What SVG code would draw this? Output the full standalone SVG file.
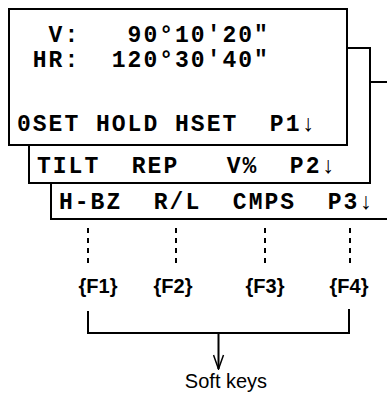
<svg xmlns="http://www.w3.org/2000/svg" width="387" height="395" viewBox="0 0 387 395">
<style>
.box{fill:#fff;stroke:#000;stroke-width:2}
.mono{font-family:"Liberation Mono","Courier New",monospace;font-weight:bold;font-size:23px;letter-spacing:2px;fill:#000}
.key{font-family:"Liberation Sans",Arial,sans-serif;font-weight:bold;font-size:20px;text-anchor:middle;fill:#000}
.lbl{font-family:"Liberation Sans",Arial,sans-serif;font-size:20px;text-anchor:middle;fill:#000}
.dash{stroke:#000;stroke-width:2;stroke-dasharray:5 5;fill:none}
.ln{stroke:#000;stroke-width:2;fill:none}
</style>
<defs>
<marker id="open" viewBox="0 0 16 12" refX="15" refY="6" markerWidth="16" markerHeight="12" markerUnits="userSpaceOnUse" orient="auto">
<path d="M1,1 L15,6 L1,11" fill="none" stroke="#000" stroke-width="1.5"/>
</marker>
</defs>
<g id="screen3">
<rect class="box" x="51" y="82" width="340" height="137"/>
<text class="mono" x="59" y="209" xml:space="preserve">H-BZ  R/L  CMPS  P3↓</text>
</g>
<g id="screen2">
<rect class="box" x="29" y="48" width="341" height="135"/>
<text class="mono" x="37" y="173" xml:space="preserve">TILT  REP   V%  P2↓</text>
</g>
<g id="screen1">
<rect class="box" x="9" y="9" width="338" height="136"/>
<text class="mono" x="17" y="42" xml:space="preserve">  V:   90°10'20"</text>
<text class="mono" x="17" y="67" xml:space="preserve"> HR:  120°30'40"</text>
<text class="mono" x="17" y="131" xml:space="preserve">0SET HOLD HSET  P1↓</text>
</g>
<g id="connectors">
<line class="dash" x1="88" y1="228" x2="88" y2="268"/>
<line class="dash" x1="176" y1="228" x2="176" y2="268"/>
<line class="dash" x1="265" y1="228" x2="265" y2="268"/>
<line class="dash" x1="350" y1="228" x2="350" y2="268"/>
<path class="ln" d="M88,311 V333 H349 V309"/>
<line class="ln" x1="218.5" y1="333" x2="218.5" y2="369" marker-end="url(#open)"/>
</g>
<g id="key-F1"><text class="key" x="98" y="293">{F1}</text></g>
<g id="key-F2"><text class="key" x="173" y="293">{F2}</text></g>
<g id="key-F3"><text class="key" x="265" y="293">{F3}</text></g>
<g id="key-F4"><text class="key" x="349" y="293">{F4}</text></g>
<g id="soft-keys"><text class="lbl" x="226" y="388">Soft keys</text></g>
</svg>
